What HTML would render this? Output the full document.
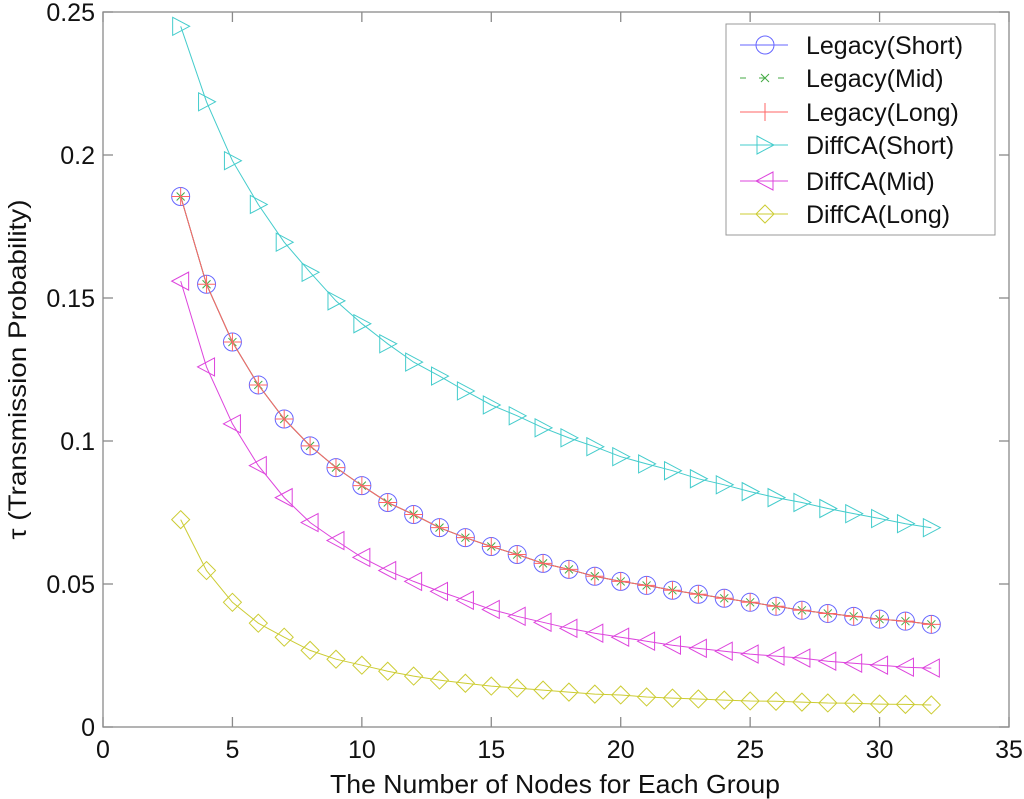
<!DOCTYPE html>
<html><head><meta charset="utf-8"><style>
html,body{margin:0;padding:0;background:#fff;}
svg{display:block;font-family:"Liberation Sans",sans-serif;}
</style></head><body>
<svg id="chart" width="1024" height="799" xmlns="http://www.w3.org/2000/svg">
<rect x="0" y="0" width="1024" height="799" fill="#fff"/>
<g id="series"></g><g id="axes"></g><g id="legend"></g>
</svg>
<script>
const xValues = [3,4,5,6,7,8,9,10,11,12,13,14,15,16,17,18,19,20,21,22,23,24,25,26,27,28,29,30,31,32];
const legacyShort = [0.1855,0.1548,0.1346,0.1196,0.1077,0.0983,0.0907,0.0844,0.0785,0.0743,0.0697,0.0662,0.0631,0.0603,0.0572,0.0551,0.0527,0.0509,0.0495,0.0478,0.0464,0.045,0.0436,0.0422,0.0408,0.0397,0.0387,0.0377,0.037,0.0359];
const legacyMid = [0.1855,0.1548,0.1346,0.1196,0.1077,0.0983,0.0907,0.0844,0.0785,0.0743,0.0697,0.0662,0.0631,0.0603,0.0572,0.0551,0.0527,0.0509,0.0495,0.0478,0.0464,0.045,0.0436,0.0422,0.0408,0.0397,0.0387,0.0377,0.037,0.0359];
const legacyLong = [0.1855,0.1548,0.1346,0.1196,0.1077,0.0983,0.0907,0.0844,0.0785,0.0743,0.0697,0.0662,0.0631,0.0603,0.0572,0.0551,0.0527,0.0509,0.0495,0.0478,0.0464,0.045,0.0436,0.0422,0.0408,0.0397,0.0387,0.0377,0.037,0.0359];
const diffShort = [0.245,0.2186,0.198,0.1827,0.1695,0.159,0.149,0.141,0.134,0.1276,0.1227,0.1175,0.1126,0.1088,0.1046,0.1011,0.098,0.0945,0.092,0.0896,0.0868,0.0847,0.0823,0.0802,0.0785,0.0764,0.0746,0.0729,0.0711,0.0697];
const diffMid = [0.1559,0.1259,0.106,0.0914,0.0802,0.0715,0.0652,0.0593,0.0547,0.0509,0.0474,0.0443,0.0411,0.0387,0.0366,0.0345,0.0328,0.0314,0.03,0.0286,0.0275,0.0265,0.0255,0.0248,0.0241,0.023,0.0223,0.0216,0.0209,0.0206];
const diffLong = [0.0725,0.0547,0.0436,0.0363,0.0314,0.0268,0.0237,0.0216,0.0195,0.0178,0.0164,0.0153,0.0143,0.0136,0.0129,0.0122,0.0115,0.0112,0.0105,0.0101,0.0098,0.0094,0.0091,0.009,0.0087,0.0084,0.0083,0.008,0.0079,0.0077];
const xTicks = [0,5,10,15,20,25,30,35];
const yTicks = [0,0.05,0.1,0.15,0.2,0.25];
const yTickLabels = ["0","0.05","0.1","0.15","0.2","0.25"];
const seriesNames = ["Legacy(Short)","Legacy(Mid)","Legacy(Long)","DiffCA(Short)","DiffCA(Mid)","DiffCA(Long)"];

const L=103,R=1009,T=12,B=727;
const sx=v=>L+(v-0)/(35-0)*(R-L);
const sy=v=>B-(v-0)/(0.25-0)*(B-T);
const NS="http://www.w3.org/2000/svg";
function mk(tag,attrs,parent){const e=document.createElementNS(NS,tag);for(const k in attrs)e.setAttribute(k,attrs[k]);parent.appendChild(e);return e;}
const axes=document.getElementById('axes'),ser=document.getElementById('series'),leg=document.getElementById('legend');
const ax='#8a8a8a';
const frame=mk('rect',{x:L,y:T,width:R-L,height:B-T,fill:'none',stroke:ax,'stroke-width':1.3},axes);


xTicks.forEach(t=>{
  const x=sx(t);
  mk('line',{x1:x,y1:B,x2:x,y2:B-10,stroke:ax,'stroke-width':1.3},axes);
  mk('line',{x1:x,y1:T,x2:x,y2:T+10,stroke:ax,'stroke-width':1.3},axes);
  const tx=mk('text',{x:x,y:B+31,'text-anchor':'middle','font-size':25,fill:'#111'},axes);
  tx.textContent=t;
  
  
});
yTicks.forEach((t,i)=>{
  const y=sy(t);
  mk('line',{x1:L,y1:y,x2:L+10,y2:y,stroke:ax,'stroke-width':1.3},axes);
  mk('line',{x1:R,y1:y,x2:R-10,y2:y,stroke:ax,'stroke-width':1.3},axes);
  const tx=mk('text',{x:95,y:y+9,'text-anchor':'end','font-size':25,fill:'#111'},axes);
  tx.textContent=yTickLabels[i];
  
  
});
const xt=mk('text',{x:330,y:793,'font-size':26,fill:'#111',textLength:450,lengthAdjust:'spacingAndGlyphs'},axes);
xt.textContent='The Number of Nodes for Each Group';


const yt=mk('text',{x:0,y:0,'text-anchor':'middle','font-size':25,fill:'#111',textLength:340,lengthAdjust:'spacingAndGlyphs',transform:`translate(26,${(T+B)/2}) rotate(-90)`},axes);
yt.textContent='τ (Transmission Probability)';



function marker(type,x,y,color,g){
  const s=9;
  if(type==='o') mk('circle',{cx:x,cy:y,r:s,fill:'none',stroke:color,'stroke-width':1},g);
  else if(type==='x'){mk('path',{d:`M${x-4} ${y-4}L${x+4} ${y+4}M${x-4} ${y+4}L${x+4} ${y-4}`,stroke:color,'stroke-width':1,fill:'none'},g);}
  else if(type==='+'){mk('path',{d:`M${x-9} ${y}L${x+9} ${y}M${x} ${y-9}L${x} ${y+9}`,stroke:color,'stroke-width':1,fill:'none'},g);}
  else if(type==='>') mk('path',{d:`M${x-8} ${y-9}L${x+9} ${y}L${x-8} ${y+9}Z`,stroke:color,fill:'none','stroke-width':1},g);
  else if(type==='<') mk('path',{d:`M${x+8} ${y-9}L${x-9} ${y}L${x+8} ${y+9}Z`,stroke:color,fill:'none','stroke-width':1},g);
  else if(type==='d') mk('path',{d:`M${x} ${y-9}L${x+9} ${y}L${x} ${y+9}L${x-9} ${y}Z`,stroke:color,fill:'none','stroke-width':1},g);
}
const all=[legacyShort,legacyMid,legacyLong,diffShort,diffMid,diffLong];
const colors=['#6666ff','#44aa44','#ff6666','#44cccc','#dd44dd','#cccc33'];
const marks=['o','x','+','>','<','d'];
all.forEach((vals,si)=>{
  const g=mk('g',{},ser);
  
  
  const d=vals.map((v,i)=>(i?'L':'M')+sx(xValues[i]).toFixed(1)+' '+sy(v).toFixed(1)).join('');
  mk('path',{d:d,fill:'none',stroke:colors[si],'stroke-width':1},g);
  vals.forEach((v,i)=>marker(marks[si],sx(xValues[i]),sy(v),colors[si],g));
});
const lb=mk('rect',{x:726,y:24,width:269,height:211,fill:'#fff',stroke:'#999','stroke-width':1},leg);


const ly=[45,78,112,145,181,214];
seriesNames.forEach((n,i)=>{
  const g=mk('g',{},leg);
  
  
  mk('line',{x1:740,y1:ly[i],x2:788,y2:ly[i],stroke:colors[i],'stroke-width':1,'stroke-dasharray':i===1?'6,13':''},g);
  marker(marks[i],765,ly[i],colors[i],g);
  const t=mk('text',{x:806,y:ly[i]+9,'font-size':25,fill:'#111'},g);
  t.textContent=n;
});
</script>
</body></html>
